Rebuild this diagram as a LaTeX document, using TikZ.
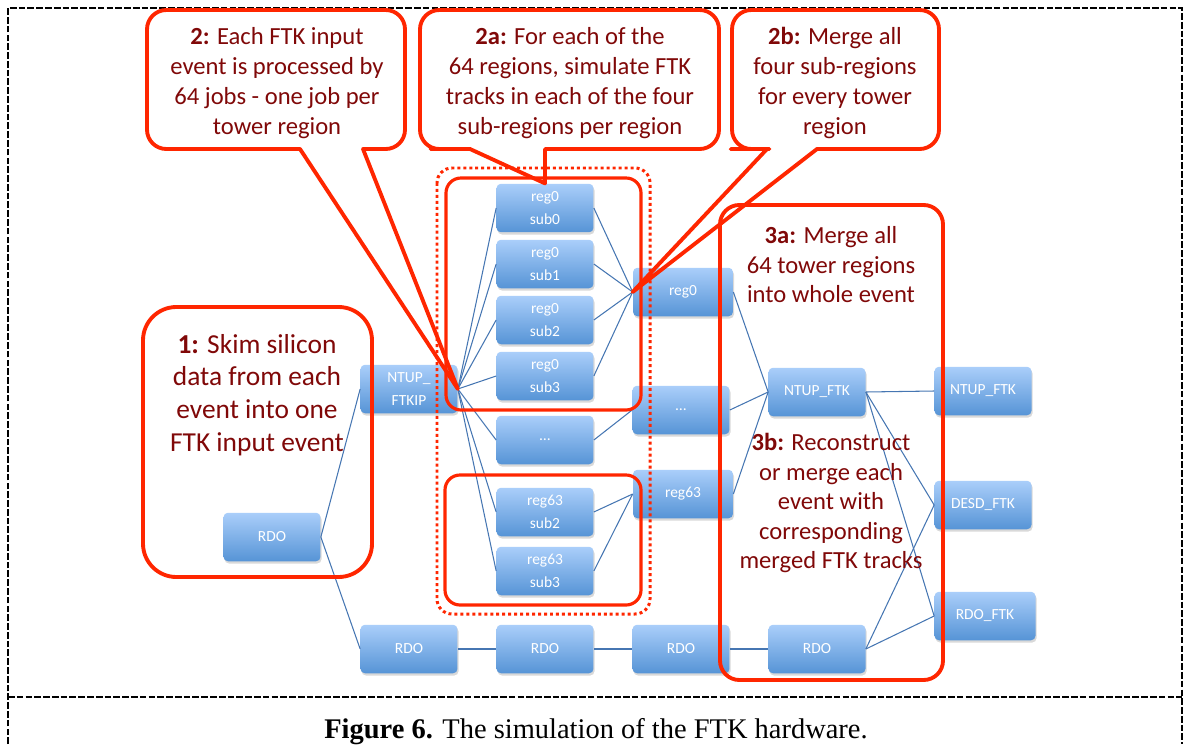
\documentclass[tikz,border=0pt]{standalone}
\usepackage{fontspec}
\setmainfont{Liberation Serif}
\newfontfamily\calibri{Carlito}
\usetikzlibrary{shadows}

\definecolor{jobtop}{RGB}{170,206,250}
\definecolor{jobbot}{RGB}{86,148,214}
\definecolor{wireblue}{RGB}{70,118,178}
\definecolor{callred}{RGB}{255,38,0}
\definecolor{notered}{RGB}{128,8,8}

\tikzset{
  job/.style={rounded corners=2.5pt, top color=jobtop, bottom color=jobbot,
    minimum width=1.94cm, minimum height=0.97cm, inner sep=0pt, align=center,
    text=white, font=\calibri\fontsize{8.8}{13}\selectfont,
    drop shadow={opacity=0.3, shadow xshift=0.6pt, shadow yshift=-1.3pt}},
  wire/.style={draw=wireblue, line width=0.6pt},
  callout/.style={draw=callred, line width=2.2pt, rounded corners=11pt, line join=round},
  frame/.style={draw=callred, line width=1.8pt, rounded corners=8.5pt},
  dotframe/.style={draw=callred, line width=1.7pt, rounded corners=8.5pt, dash pattern=on 1.7pt off 1.7pt},
  note/.style={text=notered, align=center, inner sep=0pt, font=\calibri\fontsize{14}{17}\selectfont},
}

\begin{document}
\begin{tikzpicture}[x=0.02cm, y=-0.02cm]
	\useasboundingbox (0,0) rectangle (1190,744);

	% page frame and caption
	\draw [line width=0.8pt, dash pattern=on 3.8pt off 1.2pt] (8,744) -- (8,8) -- (1182,8) -- (1182,744);
	\draw [line width=0.8pt, dash pattern=on 3.8pt off 1.2pt] (8,697) -- (1182,697);
	\node [anchor=base, font=\fontsize{16.2}{18}\selectfont] (caption) at (596,738) {\textbf{Figure 6.} The simulation of the FTK hardware.};

	% jobs
	\node [job] (ftkip) at (409, 389) {NTUP\_\\FTKIP};
	\node [job] (rdo0) at (272, 537) {RDO};
	\node [job] (rdo1) at (409, 649) {RDO};
	\node [job] (rdo2) at (545, 649) {RDO};
	\node [job] (rdo3) at (681, 649) {RDO};
	\node [job] (rdo4) at (817, 649) {RDO};
	\node [job] (r0s0) at (545, 208) {reg0\\sub0};
	\node [job] (r0s1) at (545, 264) {reg0\\sub1};
	\node [job] (r0s2) at (545, 320) {reg0\\sub2};
	\node [job] (r0s3) at (545, 376) {reg0\\sub3};
	\node [job] (sdots) at (545, 440) {…};
	\node [job] (r63s2) at (545, 512) {reg63\\sub2};
	\node [job] (r63s3) at (545, 571) {reg63\\sub3};
	\node [job, minimum width=2cm] (reg0) at (683, 292) {reg0};
	\node [job] (rdots) at (681, 410) {…};
	\node [job, minimum width=2cm] (reg63) at (683, 494) {reg63};
	\node [job] (ntup) at (817, 392) {NTUP\_FTK};
	\node [job] (outntup) at (983, 391) {NTUP\_FTK};
	\node [job] (outdesd) at (983, 505) {DESD\_FTK};
	\node [job, minimum width=2.02cm] (outrdo) at (985, 616) {RDO\_FTK};

	% connectors
	\draw [wire] (rdo0.east) to (ftkip.west);
	\draw [wire] (rdo0.east) to (rdo1.west);
	\draw [wire] (rdo1.east) to (rdo2.west);
	\draw [wire] (rdo2.east) to (rdo3.west);
	\draw [wire] (rdo3.east) to (rdo4.west);
	\foreach \s in {r0s0,r0s1,r0s2,r0s3,sdots,r63s2,r63s3}
		\draw [wire] (ftkip.east) to (\s.west);
	\foreach \s in {r0s0,r0s1,r0s2,r0s3}
		\draw [wire] (\s.east) to (reg0.west);
	\draw [wire] (sdots.east) to (rdots.west);
	\foreach \s in {r63s2,r63s3}
		\draw [wire] (\s.east) to (reg63.west);
	\foreach \s in {reg0,rdots,reg63}
		\draw [wire] (\s.east) to (ntup.west);
	\foreach \s in {outntup,outdesd,outrdo}
		\draw [wire] (ntup.east) to (\s.west);
	\foreach \s in {outdesd,outrdo}
		\draw [wire] (rdo4.east) to (\s.west);

	% red boxes
	\draw [dotframe] (437,168) rectangle (650,614);
	\draw [frame] (446,178) rectangle (641,410);
	\draw [frame] (445,475) rectangle (641,605);
	\draw [callout, rounded corners=19pt] (143,307) rectangle (372,577);
	\draw [callout] (720,205) rectangle (943,680);

	% callouts with pointers
	\draw [callout] (405,80) -- (405,10) -- (147,10) -- (147,149) -- (250,149) [sharp corners] -- (300,149)
		-- (ftkip.east) -- (363,149) -- (385,149) [rounded corners=11pt] -- (405,149) -- cycle;
	\draw [callout] (719,80) -- (719,10) -- (420,10) -- (420,149) -- (450,149) [sharp corners] -- (470,149)
		-- (r0s0.north) -- (r0s0.north |- 0,149) -- (600,149) [rounded corners=11pt] -- (719,149) -- cycle;
	\draw [callout] (939,80) -- (939,10) -- (732,10) -- (732,149) -- (750,149) [sharp corners] -- (767,149)
		-- (reg0.west) -- (817,149) -- (860,149) [rounded corners=11pt] -- (939,149) -- cycle;

	% notes
	\node [note, font=\calibri\fontsize{15.6}{18.7}\selectfont] (note1) at (257, 395) {\textbf{1:} Skim silicon\\data from each\\event into one\\FTK input event};
	\node [note] (note2) at (277, 83) {\textbf{2:} Each FTK input\\event is processed by\\64 jobs - one job per\\tower region};
	\node [note] (note2a) at (570, 83) {\textbf{2a:} For each of the\\64 regions, simulate FTK\\tracks in each of the four\\sub-regions per region};
	\node [note] (note2b) at (835, 83) {\textbf{2b:} Merge all\\four sub-regions\\for every tower\\region};
	\node [note, font=\calibri\fontsize{14}{16.8}\selectfont] (note3a) at (831, 265) {\textbf{3a:} Merge all\\64 tower regions\\into whole event};
	\node [note, font=\calibri\fontsize{14}{16.8}\selectfont] (note3b) at (831, 503) {\textbf{3b:} Reconstruct\\or merge each\\event with\\corresponding\\merged FTK tracks};
\end{tikzpicture}
\end{document}
